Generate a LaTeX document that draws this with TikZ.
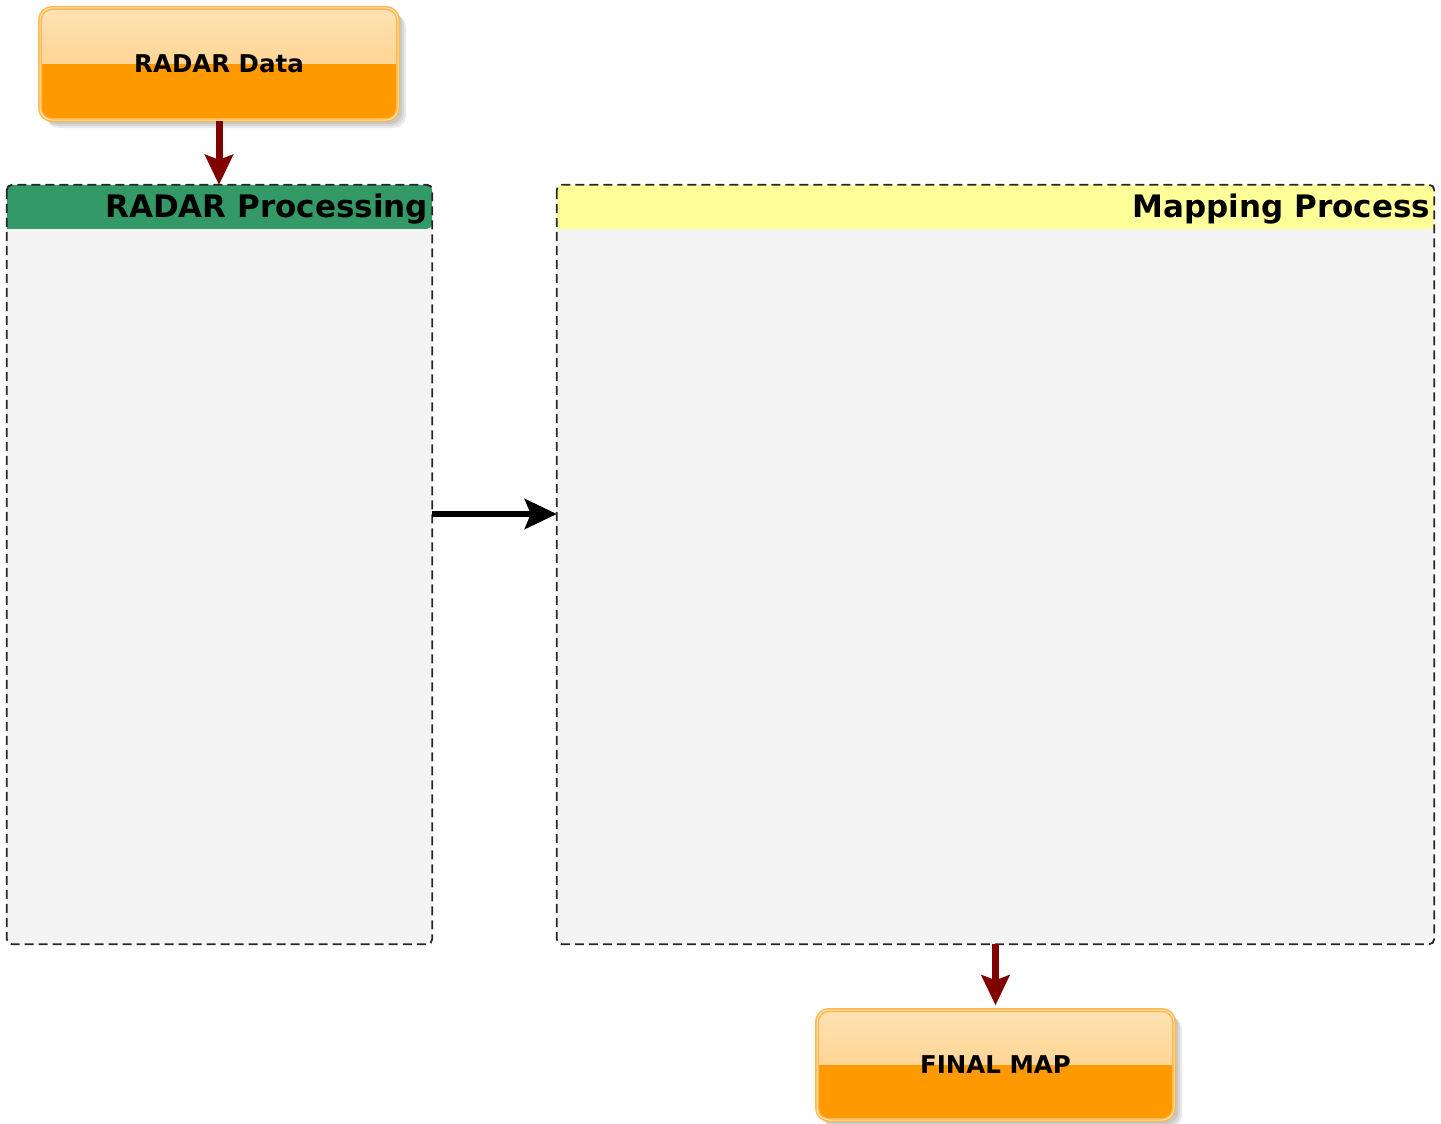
\documentclass[tikz,border=0pt]{standalone}
\usepackage{fontspec}
\setmainfont{DejaVu Sans}
\usetikzlibrary{arrows.meta,calc}
\definecolor{orng}{HTML}{FF9900}
\definecolor{orngtop}{HTML}{FFE2B4}
\definecolor{orngmid}{HTML}{FFC978}
\definecolor{orngline}{HTML}{FFB84D}
\definecolor{grn}{HTML}{339966}
\definecolor{ylw}{HTML}{FFFF99}
\definecolor{panel}{HTML}{F4F4F4}
\definecolor{darkred}{HTML}{800000}
\tikzset{
  orangebox/.style={rounded corners=12pt, draw=orngline, line width=1.5pt, double=orngtop, double distance=1pt,
    font=\bfseries\fontsize{24.5}{28}\selectfont, text=black,
    path picture={
      \fill[sharp corners, top color=orngtop, bottom color=orngmid] ([shift={(-2,-2)}]path picture bounding box.north west) rectangle (path picture bounding box.east);
      \fill[sharp corners, orng] (path picture bounding box.west) rectangle ([shift={(2,2)}]path picture bounding box.south east);
    }},
  shadowbox/.style={rounded corners=12pt, fill=black, opacity=0.08},
  container/.style={draw=none, fill=panel, rounded corners=5pt, inner sep=0pt},
  borderline/.style={draw=black!85, dash pattern=on 9pt off 5pt, line width=1.8pt, rounded corners=5pt},
  titletext/.style={font=\bfseries\fontsize{31}{36}\selectfont, anchor=east, inner sep=0pt, text=black},
  redarrow/.style={draw=darkred, line width=7pt, -{Stealth[length=30pt,width=28pt,inset=5pt]}},
  blackarrow/.style={draw=black, line width=6pt, -{Stealth[length=32pt,width=30pt,inset=6pt]}},
}
\begin{document}
\begin{tikzpicture}[x=1pt,y=-1pt]
\useasboundingbox (0,0) rectangle (1441,1124);
% soft shadows
\foreach \d in {2,4,6}{
  \fill[shadowbox] (40+\d+1,8+\d+1) rectangle (398+\d+2,120+\d+2);
  \fill[shadowbox] (817+\d+1,1010+\d+1) rectangle (1174+\d+2,1120+\d+2);
}
% RADAR Data
\node[orangebox, minimum width=358pt, minimum height=112pt] (radar) at (219,64) {RADAR Data};
% RADAR Processing container
\node[container, minimum width=425pt, minimum height=759pt] (rp) at (219.5,564.5) {};
\fill[grn, rounded corners=5pt] (rp.north west) -- (rp.north east) -- ($(rp.north east)+(0,44)$) [sharp corners] -- ($(rp.north west)+(0,44)$) [rounded corners=5pt] -- cycle;
\draw[borderline] (rp.north west) rectangle (rp.south east);
\node[titletext] (rptitle) at ($(rp.north east)+(-4,24.5)$) {RADAR Processing};
% Mapping Process container
\node[container, minimum width=877pt, minimum height=759pt] (mp) at (995.5,564.5) {};
\fill[ylw, rounded corners=5pt] (mp.north west) -- (mp.north east) -- ($(mp.north east)+(0,44)$) [sharp corners] -- ($(mp.north west)+(0,44)$) [rounded corners=5pt] -- cycle;
\draw[borderline] (mp.north west) rectangle (mp.south east);
\node[titletext] (mptitle) at ($(mp.north east)+(-4,24.5)$) {Mapping Process};
% FINAL MAP
\node[orangebox, minimum width=357pt, minimum height=110pt] (final) at (995.5,1065) {FINAL MAP};
% arrows
\draw[redarrow] (radar.south) -- (radar.south |- rp.north);
\draw[blackarrow] (rp.east |- 0,514) -- (mp.west |- 0,514);
\draw[redarrow] (mp.south -| final.north) -- ($(final.north)+(0,-4)$);
\end{tikzpicture}
\end{document}
